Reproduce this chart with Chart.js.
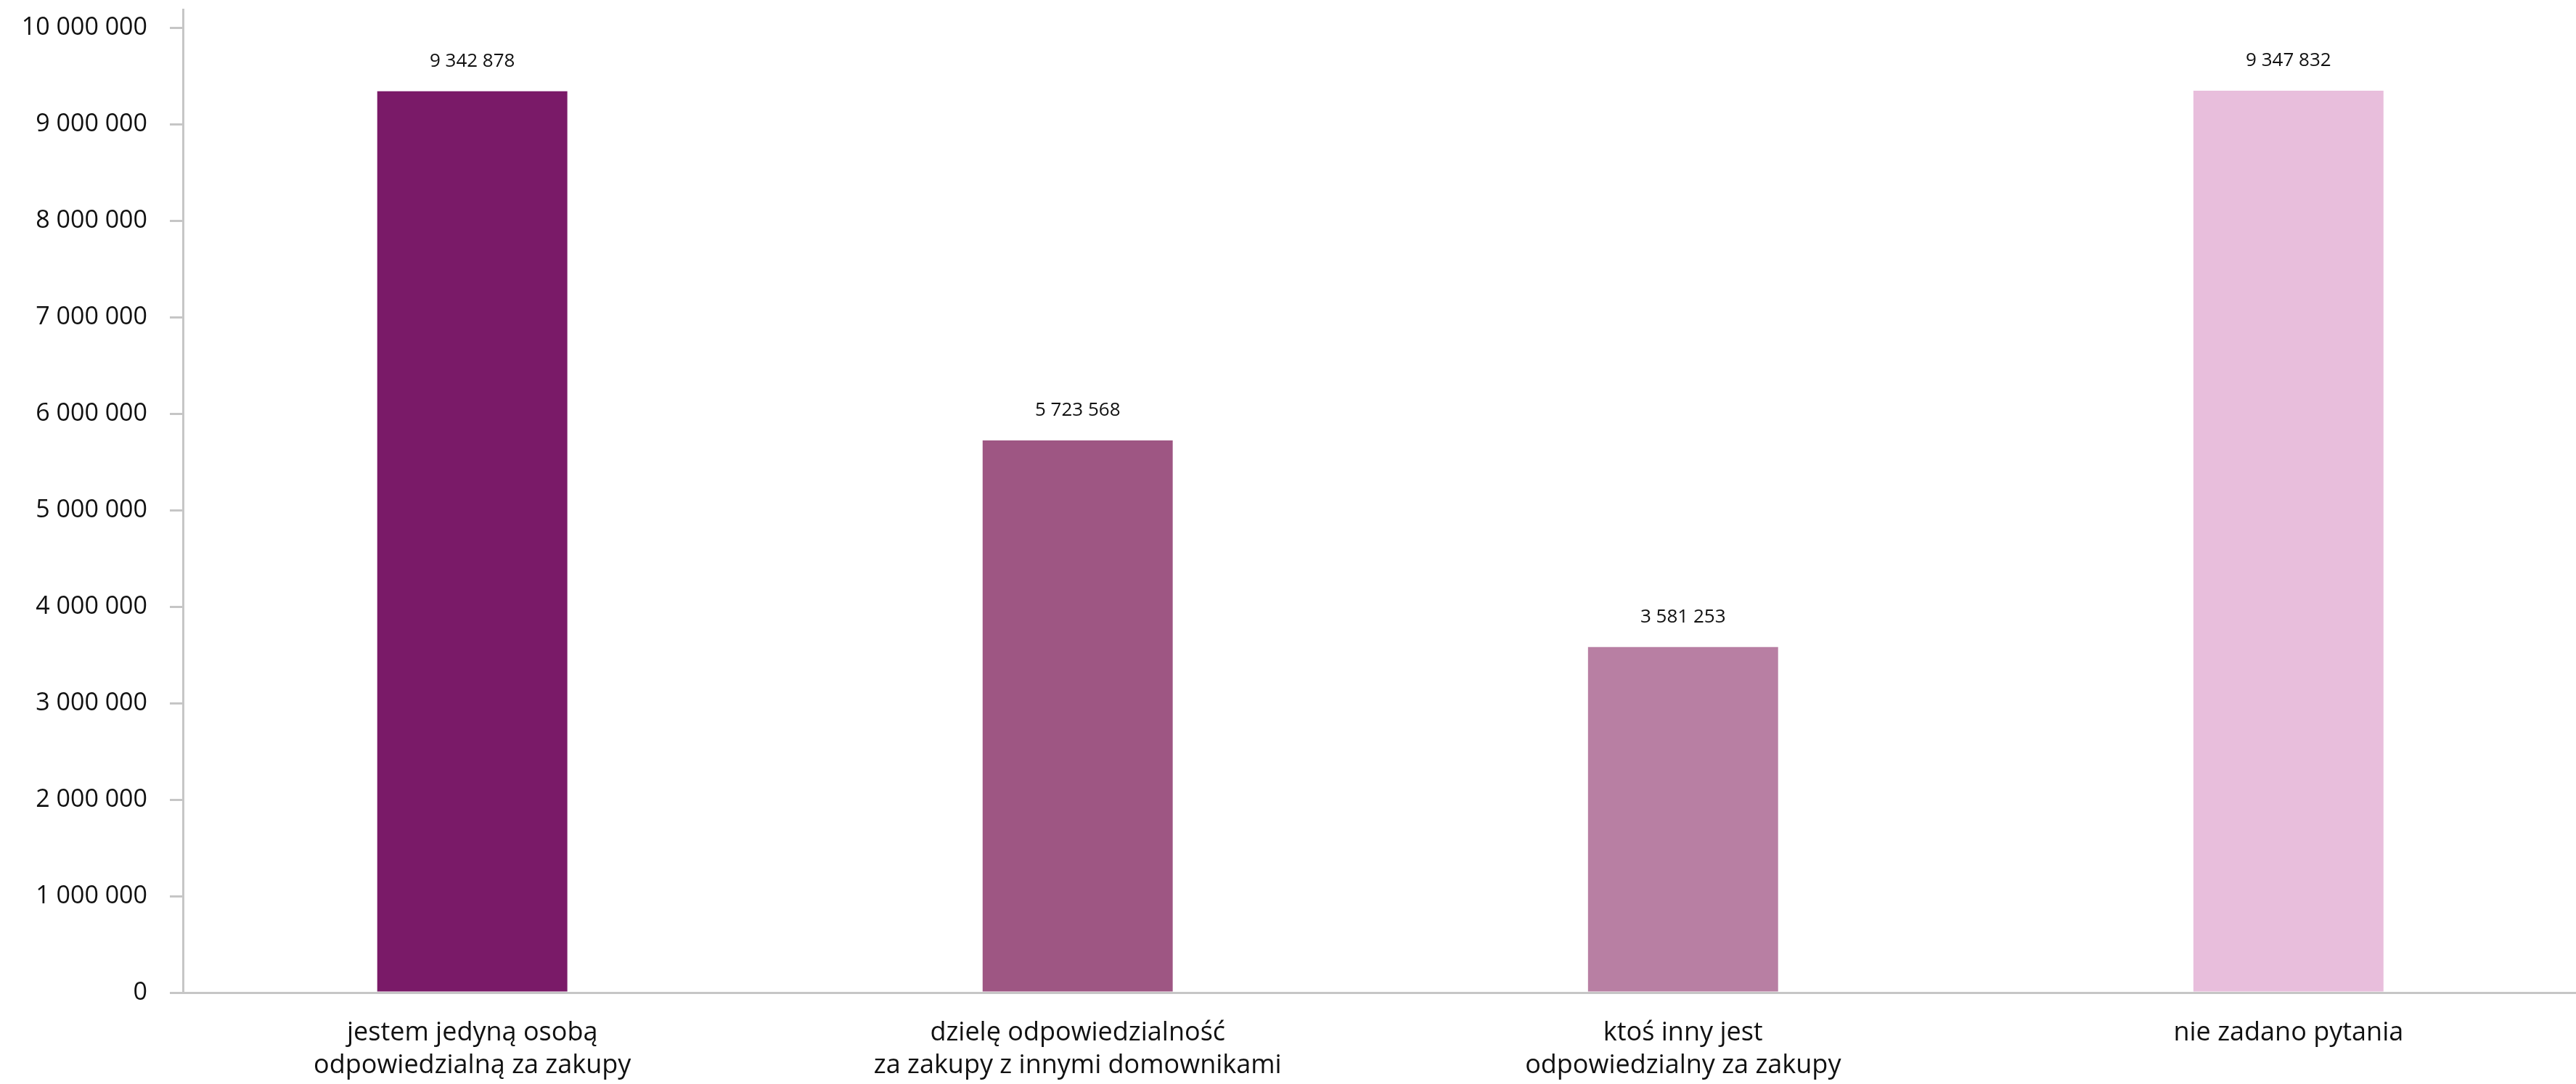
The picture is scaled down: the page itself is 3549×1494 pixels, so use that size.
<!DOCTYPE html>
<html>
<head>
<meta charset="utf-8">
<script src="https://cdn.jsdelivr.net/npm/chart.js@4"></script>
<style>
  html, body { margin: 0; padding: 0; background: #fff; overflow: hidden; }
  #wrap { width: 3549px; height: 1494px; }
</style>
</head>
<body>
<div id="wrap"><canvas id="shoppingChart"></canvas></div>
<script>
// data
const categories = [
  ["jestem jedyną osobą", "odpowiedzialną za zakupy"],
  ["dzielę odpowiedzialność", "za zakupy z innymi domownikami"],
  ["ktoś inny jest", "odpowiedzialny za zakupy"],
  ["nie zadano pytania"],
];
const peopleCounts = [9342878, 5723568, 3581253, 9347832];
const barColors = ["#7a1a68", "#9e5683", "#b87fa3", "#e8bedc"];
const yTickValues = [0, 1000000, 2000000, 3000000, 4000000, 5000000,
  6000000, 7000000, 8000000, 9000000, 10000000];

// axis limits (x is a linear index axis so the bars can sit off the y axis)
const xMin = -0.478;
const xMax = 3.475;
const yMax = 10190000;

const spaced = (v) => String(v).replace(/\B(?=(\d{3})+(?!\d))/g, " ");

// small plugin: value above each bar
const valueLabels = {
  id: "valueLabels",
  afterDatasetsDraw(chart) {
    const ctx = chart.ctx;
    const meta = chart.getDatasetMeta(0);
    ctx.save();
    ctx.font = "26px 'Open Sans'";
    ctx.fillStyle = "#111";
    ctx.textAlign = "center";
    ctx.textBaseline = "middle";
    meta.data.forEach((bar, i) => {
      ctx.fillText(spaced(peopleCounts[i]), bar.x, bar.y - 41);
    });
    ctx.restore();
  },
};

const ctx = document.getElementById("shoppingChart").getContext("2d");

new Chart(ctx, {
  type: "bar",
  data: {
    datasets: [
      {
        data: peopleCounts.map((v, i) => ({ x: i, y: v })),
        backgroundColor: barColors,
        borderWidth: 0,
        categoryPercentage: 1,
        barPercentage: 0.314,
      },
    ],
  },
  options: {
    responsive: true,
    maintainAspectRatio: false,
    animation: false,
    layout: { padding: { top: 13, left: 0, right: 0, bottom: 0 } },
    scales: {
      x: {
        type: "linear",
        bounds: "data",
        offset: false,
        min: xMin,
        max: xMax,
        grid: { display: false, drawTicks: false },
        border: { display: true, color: "#c6c6c6", width: 3 },
        afterBuildTicks: (scale) => {
          scale.ticks = categories.map((c, i) => ({ value: i }));
        },
        ticks: {
          autoSkip: false,
          maxRotation: 0,
          padding: 33,
          color: "#111",
          font: { family: "'Open Sans'", size: 36, lineHeight: 1.25 },
          callback: (v) => categories[v],
        },
        afterFit: (scale) => {
          scale.height = 126;
          scale.paddingLeft = 0;
          scale.paddingRight = 0;
        },
      },
      y: {
        bounds: "data",
        min: 0,
        max: yMax,
        grid: {
          drawOnChartArea: false,
          drawTicks: true,
          tickLength: 18,
          color: "#c6c6c6",
          lineWidth: 3,
        },
        border: { display: true, color: "#c6c6c6", width: 3 },
        afterBuildTicks: (scale) => {
          scale.ticks = yTickValues.map((v) => ({ value: v }));
        },
        ticks: {
          autoSkip: false,
          padding: 31,
          color: "#111",
          font: { family: "'Open Sans'", size: 34 },
          callback: (v) => spaced(v),
        },
        afterFit: (scale) => {
          scale.width = 252;
          scale.paddingTop = 0;
          scale.paddingBottom = 0;
        },
      },
    },
    plugins: {
      legend: { display: false },
      tooltip: { enabled: false },
    },
  },
  plugins: [valueLabels],
});
</script>
</body>
</html>
